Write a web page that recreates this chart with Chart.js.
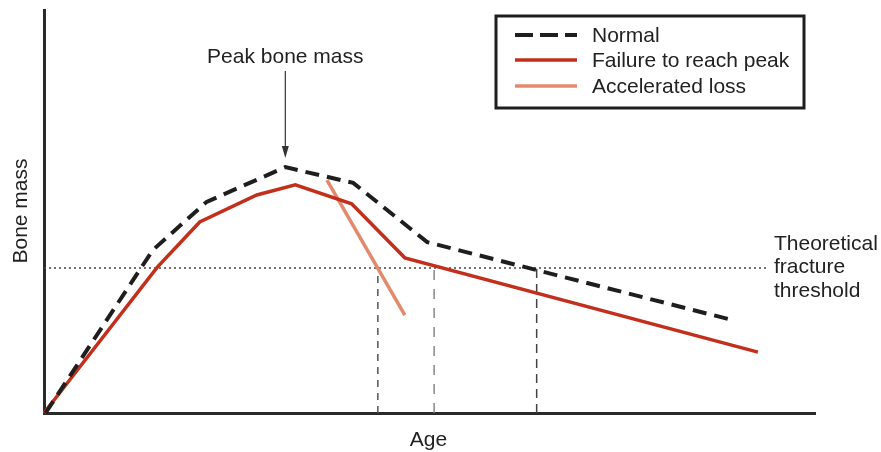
<!DOCTYPE html>
<html>
<head>
<meta charset="utf-8">
<script src="https://cdn.jsdelivr.net/npm/chart.js@4"></script>
<style>
html,body{margin:0;padding:0;background:#fff;}
#wrap{width:881px;height:452px;position:relative;}
</style>
</head>
<body>
<div id="wrap"><canvas id="chart"></canvas></div>
<script>
// values (age and bone mass on a 0-100 scale)
const normalAge=[0.2,14.1,21.1,31.3,40.1,49.7,89.2];
const normalMass=[0,40.4,52.4,61.0,57.1,42.4,23.1];
const failureAge=[0,14.7,20.2,27.6,32.6,39.9,46.8,92.6];
const failureMass=[0,36.2,47.4,54.1,56.6,51.9,38.5,15.1];
const lossAge=[36.7,46.8];
const lossMass=[57.8,24.3];
const thresholdMass=36;
const thresholdEnd=93.9;
const crossingAges=[43.3,50.6,63.9];
const peakAge=31.3;
const seriesLabels=['Normal','Failure to reach peak','Accelerated loss'];

const FONT='"Liberation Sans", Arial, sans-serif';
const TEXT='#222';

function pts(xs,ys){return xs.map((x,i)=>({x:x,y:ys[i]}));}

let datasets=[
 {label:seriesLabels[0],data:pts(normalAge,normalMass),borderColor:'#1e1e1e',borderWidth:4,borderDash:[14,8],order:1},
 {label:seriesLabels[1],data:pts(failureAge,failureMass),borderColor:'#c22f1c',borderWidth:3.5,order:2},
 {label:seriesLabels[2],data:pts(lossAge,lossMass),borderColor:'#e38a6c',borderWidth:3.5,order:3},
 {label:'threshold',data:[{x:0,y:thresholdMass},{x:thresholdEnd,y:thresholdMass}],borderColor:'#444',borderWidth:1.5,borderDash:[2,3],order:5}
];
const crossColors=['#555','#888','#444'];
const crossDash=[[7,6],[10,9],[9,6]];
crossingAges.forEach((a,i)=>{
 datasets.push({label:'cross'+i,data:[{x:a,y:0},{x:a,y:thresholdMass}],borderColor:crossColors[i],borderWidth:1.5,borderDash:crossDash[i],order:6});
});
datasets.forEach(d=>{d.pointRadius=0;d.tension=0;d.clip=false;d.fill=false;d.borderCapStyle='butt';});

const extras={
 id:'extras',
 afterDraw(chart){
  const ctx=chart.ctx, xs=chart.scales.x, ys=chart.scales.y;
  ctx.save();
  ctx.fillStyle=TEXT;
  ctx.font='21px '+FONT;
  // peak label and arrow
  const px=xs.getPixelForValue(peakAge);
  ctx.textAlign='center';ctx.textBaseline='middle';
  ctx.fillText('Peak bone mass',px,57);
  ctx.strokeStyle='#333';ctx.lineWidth=1.2;
  ctx.beginPath();ctx.moveTo(px,71);ctx.lineTo(px,150);ctx.stroke();
  ctx.beginPath();ctx.moveTo(px-3.5,146);ctx.lineTo(px,158);ctx.lineTo(px+3.5,146);ctx.closePath();ctx.fillStyle='#333';ctx.fill();
  ctx.fillStyle=TEXT;
  // threshold text
  ctx.textAlign='left';
  const ty=ys.getPixelForValue(thresholdMass);
  ['Theoretical','fracture','threshold'].forEach((t,i)=>ctx.fillText(t,774,ty-24+i*23.5));
  // axis titles
  ctx.textAlign='center';
  ctx.fillText('Age',(xs.left+xs.right)/2-1,440);
  ctx.save();ctx.translate(21,211);ctx.rotate(-Math.PI/2);ctx.fillText('Bone mass',0,0);ctx.restore();
  // legend box
  ctx.fillStyle='#fff';ctx.fillRect(496,16,308,92);
  ctx.strokeStyle='#1e1e1e';ctx.lineWidth=3;ctx.strokeRect(496,16,308,92);
  const rows=[35,60,86];
  [0,1,2].forEach(i=>{
   const d=chart.data.datasets[i];
   ctx.strokeStyle=d.borderColor;ctx.lineWidth=i===0?4:3.5;
   ctx.setLineDash(i===0?[18,7]:[]);
   ctx.beginPath();ctx.moveTo(515,rows[i]);ctx.lineTo(577,rows[i]);ctx.stroke();
   ctx.setLineDash([]);
   ctx.fillStyle=TEXT;ctx.textAlign='left';
   ctx.fillText(d.label,592,rows[i]+1);
  });
  ctx.restore();
 }
};

new Chart(document.getElementById('chart'),{
 type:'line',
 data:{datasets:datasets},
 options:{
  responsive:true,maintainAspectRatio:false,animation:false,
  layout:{padding:{left:44,right:66,top:10,bottom:39}},
  plugins:{legend:{display:false},tooltip:{enabled:false}},
  scales:{
   x:{type:'linear',min:0,max:100,ticks:{display:false},grid:{display:false,drawTicks:false},
      border:{display:true,color:'#2a2a2a',width:3},afterFit:s=>{s.height=0;}},
   y:{type:'linear',min:0,max:100,ticks:{display:false},grid:{display:false,drawTicks:false},
      border:{display:true,color:'#2a2a2a',width:3},afterFit:s=>{s.width=0;}}
  }
 },
 plugins:[extras]
});
</script>
</body>
</html>
